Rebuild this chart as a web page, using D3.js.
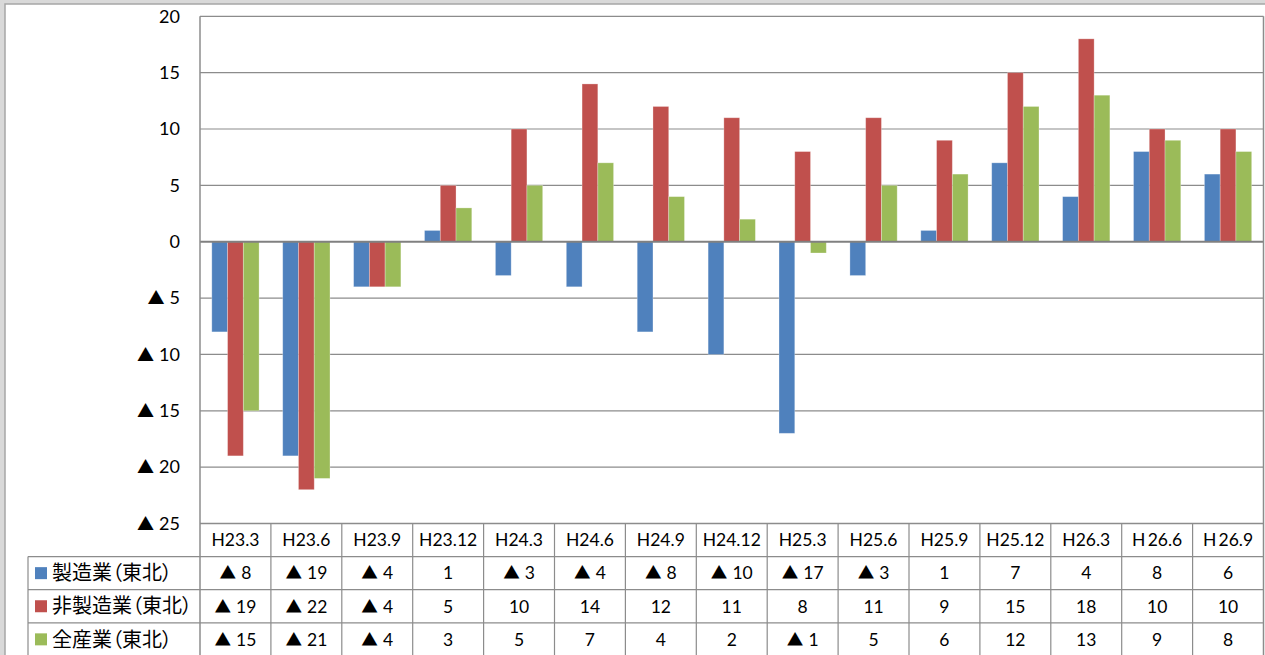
<!DOCTYPE html>
<html>
<head>
<meta charset="utf-8">
<script src="https://cdn.jsdelivr.net/npm/d3@7"></script>
<style>
  html, body { margin: 0; padding: 0; background: #d9d9d9; }
  svg { display: block; }
  .jp { font-feature-settings: "palt" 1; }
</style>
</head>
<body>
<svg id="chart" width="1265" height="655"></svg>
<script>
// Survey periods (quarters)
const periods = ["H23.3", "H23.6", "H23.9", "H23.12", "H24.3", "H24.6", "H24.9", "H24.12",
                 "H25.3", "H25.6", "H25.9", "H25.12", "H26.3", "H\u200926.6", "H\u200926.9"];
// Series names
const seriesNames = ["製造業（東北）", "非製造業（東北）", "全産業（東北）"];
// Series values
const manufacturing    = [-8, -19, -4, 1, -3, -4, -8, -10, -17, -3, 1, 7, 4, 8, 6];
const nonManufacturing = [-19, -22, -4, 5, 10, 14, 12, 11, 8, 11, 9, 15, 18, 10, 10];
const allIndustries    = [-15, -21, -4, 3, 5, 7, 4, 2, -1, 5, 6, 12, 13, 9, 8];
const seriesColors = ["#4f81bd", "#c0504d", "#9bbb59"];
// Axis ticks
const yTicks = [20, 15, 10, 5, 0, -5, -10, -15, -20, -25];

const series = [manufacturing, nonManufacturing, allIndustries];

const svg = d3.select("#chart");
const font = "Lato, sans-serif";
const jpFont = "'Noto Sans CJK JP', sans-serif";

// Writes a value into a text node; negatives are shown as "▲ n"
function writeValue(sel, v) {
  sel.text(null);
  if (v < 0) {
    sel.append("tspan").attr("font-family", jpFont).attr("font-size", "0.95em").text("▲");
    sel.append("tspan").attr("dx", 5).text(Math.abs(v));
  } else {
    sel.append("tspan").text(String(v));
  }
}

// Chart frame
svg.append("rect").attr("x", 5).attr("y", 4).attr("width", 1262).attr("height", 660)
  .attr("fill", "#ffffff").attr("stroke", "#a6a6a6").attr("stroke-width", 1.5);

const plotL = 200, plotR = 1263.5, plotT = 16.3, plotB = 523.5;
const legendL = 28;
const rowH = 33.1;

const x = d3.scaleBand().domain(periods).range([plotL, plotR]).padding(0);
const y = d3.scaleLinear().domain([-25, 20]).range([plotB, plotT]);
const inner = d3.scaleBand().domain([0, 1, 2]).range([0, x.bandwidth()])
  .paddingInner(0).paddingOuter(0.75);

const gridColor = "#8c8c8c";

// Horizontal gridlines
svg.append("g").selectAll("line").data(yTicks.filter(t => t !== 0)).join("line")
  .attr("x1", plotL).attr("x2", plotR)
  .attr("y1", d => y(d)).attr("y2", d => y(d))
  .attr("stroke", gridColor).attr("stroke-width", 1.2);

// Y axis labels
const yAxis = d3.axisLeft(y).tickValues(yTicks).tickSize(0).tickPadding(20);
const yG = svg.append("g").attr("transform", `translate(${plotL},0)`).call(yAxis);
yG.select(".domain").remove();
yG.selectAll("text").attr("font-family", font).attr("font-size", 18).attr("fill", "#000")
  .each(function(d) { writeValue(d3.select(this), d); });

// Bars
const groups = svg.append("g").selectAll("g").data(series).join("g")
  .attr("fill", (d, i) => seriesColors[i]);
groups.each(function(vals, si) {
  d3.select(this).selectAll("rect").data(vals).join("rect")
    .attr("x", (d, i) => x(periods[i]) + inner(si))
    .attr("width", inner.bandwidth())
    .attr("y", d => y(Math.max(0, d)))
    .attr("height", d => Math.abs(y(d) - y(0)))
    .attr("stroke", "#ffffff").attr("stroke-opacity", 0.35).attr("stroke-width", 0.8);
});

// Zero line
svg.append("line").attr("x1", plotL).attr("x2", plotR).attr("y1", y(0)).attr("y2", y(0))
  .attr("stroke", "#808080").attr("stroke-width", 2);

// Plot border (left axis line and right edge)
svg.append("line").attr("x1", plotL).attr("x2", plotL).attr("y1", plotT).attr("y2", plotB + rowH * 4)
  .attr("stroke", gridColor).attr("stroke-width", 1.5);
svg.append("line").attr("x1", plotR).attr("x2", plotR).attr("y1", plotT).attr("y2", plotB + rowH * 4)
  .attr("stroke", gridColor).attr("stroke-width", 1.5);

// Data table
const table = svg.append("g");
table.append("line").attr("x1", plotL).attr("x2", plotR).attr("y1", plotB).attr("y2", plotB)
  .attr("stroke", gridColor).attr("stroke-width", 1.5);
[1, 2, 3].forEach(r => {
  table.append("line").attr("x1", legendL).attr("x2", plotR)
    .attr("y1", plotB + rowH * r).attr("y2", plotB + rowH * r)
    .attr("stroke", gridColor).attr("stroke-width", 1.2);
});
table.selectAll("line.col").data(periods.slice(1)).join("line").attr("class", "col")
  .attr("x1", d => x(d)).attr("x2", d => x(d))
  .attr("y1", plotB).attr("y2", plotB + rowH * 4)
  .attr("stroke", gridColor).attr("stroke-width", 1.2);
table.append("line").attr("x1", legendL).attr("x2", legendL)
  .attr("y1", plotB + rowH).attr("y2", plotB + rowH * 4)
  .attr("stroke", gridColor).attr("stroke-width", 1.2);

// Header row: period labels
table.selectAll("text.hdr").data(periods).join("text").attr("class", "hdr")
  .attr("x", d => x(d) + x.bandwidth() / 2).attr("y", plotB + rowH / 2)
  .attr("dy", "0.36em").attr("text-anchor", "middle")
  .attr("font-family", font).attr("font-size", 17.5).attr("fill", "#000")
  .text(d => d);

// Series rows: legend key, name and values
series.forEach((vals, si) => {
  const cy = plotB + rowH * (si + 1) + rowH / 2;
  table.append("rect").attr("x", 35).attr("y", cy - 6).attr("width", 12).attr("height", 12)
    .attr("fill", seriesColors[si]);
  table.append("text").attr("class", "jp").attr("x", 52).attr("y", cy).attr("dy", "0.36em")
    .attr("font-family", jpFont).attr("font-size", 20).attr("fill", "#000")
    .text(seriesNames[si]);
  table.append("g").selectAll("text").data(vals).join("text")
    .attr("x", (d, i) => x(periods[i]) + x.bandwidth() / 2).attr("y", cy)
    .attr("dy", "0.36em").attr("text-anchor", "middle")
    .attr("font-family", font).attr("font-size", 17.5).attr("fill", "#000")
    .each(function(d) { writeValue(d3.select(this), d); });
});
</script>
</body>
</html>
